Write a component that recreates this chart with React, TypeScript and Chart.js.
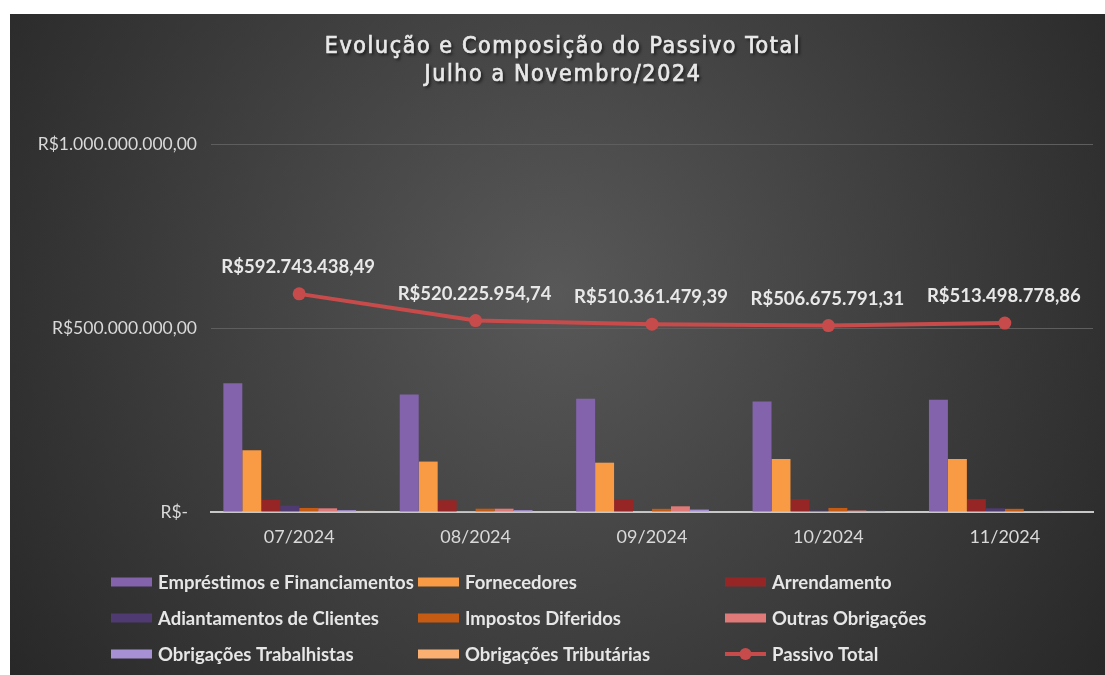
import React, { useEffect, useRef } from 'react';
import { Chart, registerables } from 'chart.js';

Chart.register(...registerables);

const categories = ['07/2024', '08/2024', '09/2024', '10/2024', '11/2024'];
const emprestimos = [350e6, 319e6, 308e6, 300e6, 305e6];
const fornecedores = [168e6, 137e6, 134e6, 144e6, 144e6];
const arrendamento = [33e6, 32e6, 35e6, 35e6, 35e6];
const adiantamentos = [17e6, 1e6, 1.5e6, 4e6, 10e6];
const impostosDiferidos = [11e6, 9e6, 8.6e6, 11e6, 8.6e6];
const outrasObrigacoes = [10e6, 9e6, 15.5e6, 4e6, 2.5e6];
const obrigTrabalhistas = [5e6, 5e6, 6.5e6, 3e6, 3e6];
const obrigTributarias = [3e6, 2e6, 2e6, 2e6, 2e6];
const passivoTotal = [592743438.49, 520225954.74, 510361479.39, 506675791.31, 513498778.86];

const seriesNames = [
  'Empréstimos e Financiamentos',
  'Fornecedores',
  'Arrendamento',
  'Adiantamentos de Clientes',
  'Impostos Diferidos',
  'Outras Obrigações',
  'Obrigações Trabalhistas',
  'Obrigações Tributárias',
  'Passivo Total',
];
const seriesColors = [
  '#8263ac',
  '#f99a45',
  '#962626',
  '#503a72',
  '#c65c14',
  '#e07a78',
  '#a791d4',
  '#fbb072',
  '#c84b4b',
];
const titleLines = ['Evolução e Composição do Passivo Total', 'Julho a Novembro/2024'];

const FONT = 'Lato, "Open Sans", sans-serif';

function fmtBRL(v: number): string {
  const fixed = v.toFixed(2);
  const parts = fixed.split('.');
  const withDots = parts[0].replace(/\B(?=(\d{3})+(?!\d))/g, '.');
  return 'R$' + withDots + ',' + parts[1];
}

const bgPlugin = {
  id: 'bgPlugin',
  beforeDraw(chart: any) {
    const { ctx, width, height } = chart;
    ctx.save();
    const g = ctx.createRadialGradient(width * 0.5, height * 0.42, 0, width * 0.5, height * 0.42, width * 0.62);
    g.addColorStop(0, '#585858');
    g.addColorStop(1, '#272727');
    ctx.fillStyle = g;
    ctx.fillRect(0, 0, width, height);
    ctx.restore();
  },
};

const titlePlugin = {
  id: 'titlePlugin',
  afterDraw(chart: any) {
    const { ctx } = chart;
    ctx.save();
    ctx.font = '23px "DejaVu Sans Condensed", "DejaVu Sans", sans-serif';
    (ctx as any).letterSpacing = '1.6px';
    ctx.fillStyle = '#e8e8e8';
    ctx.strokeStyle = '#e8e8e8';
    ctx.lineWidth = 0.7;
    ctx.textAlign = 'center';
    ctx.textBaseline = 'middle';
    ctx.shadowColor = 'rgba(0,0,0,0.7)';
    ctx.shadowOffsetX = 2;
    ctx.shadowOffsetY = 2;
    ctx.shadowBlur = 3;
    ctx.fillText(titleLines[0], 553, 33);
    ctx.fillText(titleLines[1], 553, 61);
    ctx.shadowColor = 'rgba(0,0,0,0)';
    ctx.strokeText(titleLines[0], 553, 33);
    ctx.strokeText(titleLines[1], 553, 61);
    ctx.restore();
  },
};

const labelPlugin = {
  id: 'labelPlugin',
  afterDatasetsDraw(chart: any) {
    const { ctx } = chart;
    const meta = chart.getDatasetMeta(8);
    ctx.save();
    ctx.font = 'bold 18.5px ' + FONT;
    ctx.fillStyle = '#e8e8e8';
    ctx.textAlign = 'center';
    ctx.textBaseline = 'middle';
    meta.data.forEach((pt: any, i: number) => {
      ctx.fillText(fmtBRL(passivoTotal[i]), pt.x - 1, pt.y - 27);
    });
    ctx.restore();
  },
};

const legendPlugin = {
  id: 'legendPlugin',
  afterDraw(chart: any) {
    const { ctx } = chart;
    const colX = [101, 408, 715];
    const rowY = [568, 604, 640];
    ctx.save();
    ctx.font = 'bold 18.5px ' + FONT;
    ctx.textBaseline = 'middle';
    ctx.textAlign = 'left';
    seriesNames.forEach((name, i) => {
      const x = colX[i % 3];
      const y = rowY[Math.floor(i / 3)];
      const color = seriesColors[i];
      if (i === 8) {
        ctx.strokeStyle = color;
        ctx.lineWidth = 4;
        ctx.beginPath();
        ctx.moveTo(x, y);
        ctx.lineTo(x + 41, y);
        ctx.stroke();
        ctx.fillStyle = color;
        ctx.beginPath();
        ctx.arc(x + 20.5, y, 6, 0, Math.PI * 2);
        ctx.fill();
      } else {
        ctx.fillStyle = color;
        ctx.fillRect(x, y - 4.5, 41, 9);
      }
      ctx.fillStyle = '#e6e6e6';
      ctx.fillText(name, x + 47, y + 1);
    });
    ctx.restore();
  },
};

export default function App() {
  const ref = useRef<HTMLCanvasElement | null>(null);

  useEffect(() => {
    if (!ref.current) return;
    const barSeries = [
      emprestimos,
      fornecedores,
      arrendamento,
      adiantamentos,
      impostosDiferidos,
      outrasObrigacoes,
      obrigTrabalhistas,
      obrigTributarias,
    ];
    const datasets: any[] = barSeries.map((data, i) => ({
      type: 'bar',
      label: seriesNames[i],
      data,
      backgroundColor: seriesColors[i],
      borderWidth: 0,
      categoryPercentage: 0.86,
      barPercentage: 1.0,
      order: 1,
    }));
    datasets.push({
      type: 'line',
      label: seriesNames[8],
      data: passivoTotal,
      borderColor: seriesColors[8],
      backgroundColor: seriesColors[8],
      borderWidth: 4,
      pointRadius: 6.5,
      pointHoverRadius: 6.5,
      pointBackgroundColor: seriesColors[8],
      pointBorderWidth: 0,
      tension: 0,
      order: 0,
    });

    const chart = new Chart(ref.current, {
      type: 'bar',
      data: { labels: categories, datasets },
      options: {
        animation: false,
        responsive: false,
        layout: { padding: { top: 130, right: 12, left: 0, bottom: 0 } },
        plugins: {
          legend: { display: false },
          title: { display: false },
          tooltip: { enabled: false },
        },
        scales: {
          x: {
            grid: { display: false },
            border: { display: true, color: '#c8c8c8', width: 2 },
            ticks: { color: '#d9d9d9', font: { family: FONT, size: 18 }, padding: 6 },
            afterFit(s: any) {
              s.height = 163;
            },
          },
          y: {
            min: 0,
            max: 1e9,
            ticks: {
              stepSize: 5e8,
              color: '#d9d9d9',
              font: { family: FONT, size: 17.5 },
              padding: 14,
              callback: (v: any) => (Number(v) === 0 ? 'R$-  ' : fmtBRL(Number(v))),
            },
            grid: { color: '#5e5e5e', lineWidth: 1, drawTicks: false },
            border: { display: false },
            afterFit(s: any) {
              s.width = 201;
            },
          },
        },
      } as any,
      plugins: [bgPlugin, titlePlugin, labelPlugin, legendPlugin],
    });
    return () => chart.destroy();
  }, []);

  return (
    <div style={{ position: 'absolute', left: 10, top: 14, width: 1095, height: 661 }}>
      <canvas ref={ref} width={1095} height={661} style={{ display: 'block', width: 1095, height: 661 }} />
    </div>
  );
}
